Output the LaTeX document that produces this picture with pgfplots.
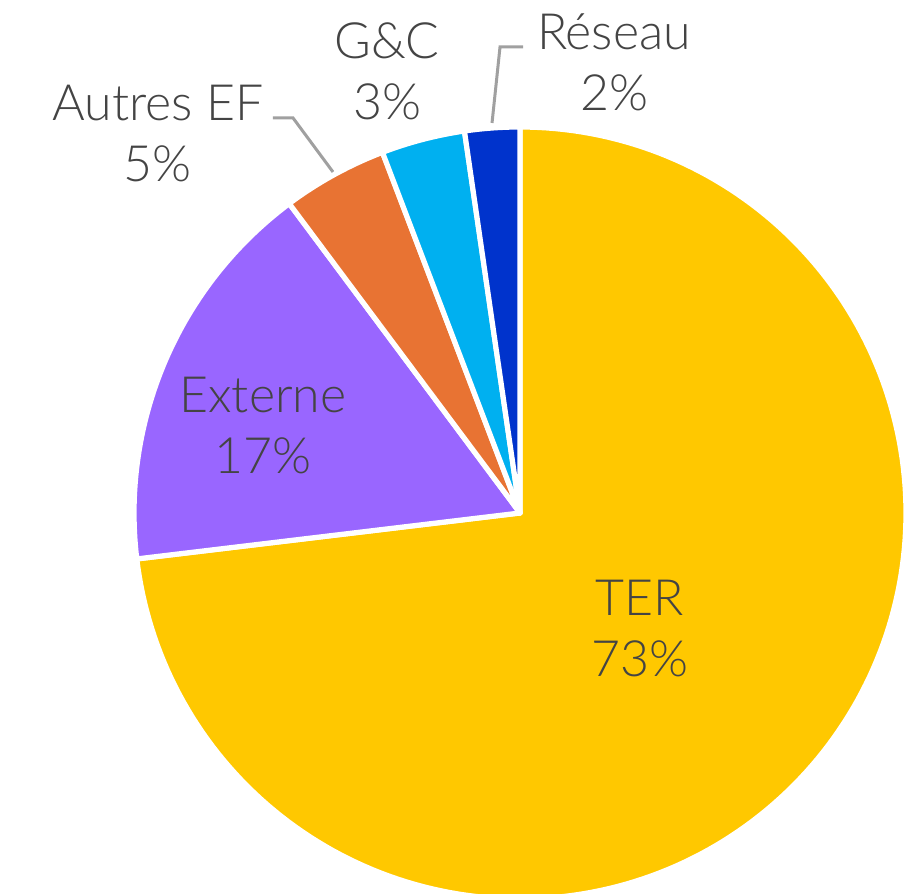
\documentclass[border=0pt]{standalone}
\usepackage{pgfplots}
\pgfplotsset{compat=1.18}
\usepackage{fontspec}
\setmainfont{Lato}[UprightFont={* Light}]
\definecolor{cTER}{HTML}{FFC800}
\definecolor{cExt}{HTML}{9966FF}
\definecolor{cAut}{HTML}{E87333}
\definecolor{cGC}{HTML}{00B0F0}
\definecolor{cRes}{HTML}{0033CC}
\definecolor{txt}{HTML}{444444}
\definecolor{lead}{HTML}{A0A0A0}
% shares (percent), clockwise from 12 o'clock
\def\vTER{73.1}
\def\vExt{16.7}
\def\vAut{4.4}
\def\vGC{3.5}
\def\vRes{2.3}
\tikzset{lbl/.style={font=\fontsize{25}{30.5}\selectfont, text=txt, align=center, inner sep=0pt}}
\begin{document}
\begin{tikzpicture}
\pgfmathsetmacro\aA{90}
\pgfmathsetmacro\aB{\aA-3.6*\vTER}
\pgfmathsetmacro\aC{\aB-3.6*\vExt}
\pgfmathsetmacro\aD{\aC-3.6*\vAut}
\pgfmathsetmacro\aE{\aD-3.6*\vGC}
\pgfmathsetmacro\aF{\aE-3.6*\vRes}
\begin{axis}[
  scale only axis, width=454pt, height=446.5pt,
  xmin=-1.3472, xmax=1.0052, ymin=-0.9845, ymax=1.329,
  hide axis, clip=true,
]
\addplot[fill=cTER, draw=white, line width=2.6pt, line join=round, domain=\aB:\aA, samples=200, variable=\t] ({cos(\t)},{sin(\t)}) -- (axis cs:0,0) -- cycle;
\addplot[fill=cExt, draw=white, line width=2.6pt, line join=round, domain=\aC:\aB, samples=60, variable=\t] ({cos(\t)},{sin(\t)}) -- (axis cs:0,0) -- cycle;
\addplot[fill=cAut, draw=white, line width=2.6pt, line join=round, domain=\aD:\aC, samples=20, variable=\t] ({cos(\t)},{sin(\t)}) -- (axis cs:0,0) -- cycle;
\addplot[fill=cGC, draw=white, line width=2.6pt, line join=round, domain=\aE:\aD, samples=20, variable=\t] ({cos(\t)},{sin(\t)}) -- (axis cs:0,0) -- cycle;
\addplot[fill=cRes, draw=white, line width=2.6pt, line join=round, domain=\aF:\aE, samples=20, variable=\t] ({cos(\t)},{sin(\t)}) -- (axis cs:0,0) -- cycle;
% leader lines
\addplot[lead, line width=1.5pt] coordinates {(-0.640,1.0233) (-0.588,1.0233) (-0.4845,0.8834)};
\addplot[lead, line width=1.5pt] coordinates {(0.0078,1.2073) (-0.0518,1.2073) (-0.0725,1.0104)};
% labels
\node[lbl] at (axis cs:0.311,-0.3005) {TER\\73\%};
\node[lbl] at (axis cs:-0.666,0.2254) {Externe\\17\%};
\node[lbl] at (axis cs:-0.938,0.982) {Autres EF\\5\%};
\node[lbl] at (axis cs:-0.3446,1.1438) {G\&C\\3\%};
\node[lbl] at (axis cs:0.2435,1.168) {Réseau\\2\%};
\end{axis}
\pgfresetboundingbox
\path (current axis.south west) rectangle (current axis.north east);
\end{tikzpicture}
\end{document}
